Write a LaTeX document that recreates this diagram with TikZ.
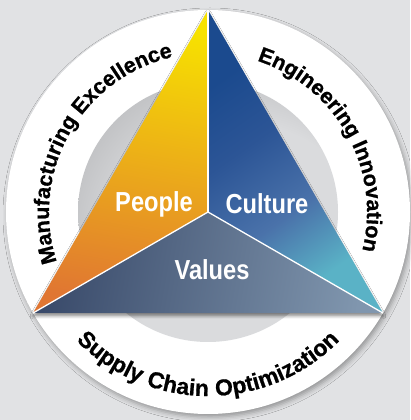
\documentclass[tikz,border=0pt]{standalone}
\usepackage{fontspec}
\setmainfont{Liberation Sans}
\newfontfamily\condfont[FakeStretch=0.86]{Liberation Sans}
\newfontfamily\ringfont[FakeBold=0.8]{Liberation Sans}
\newfontfamily\ringfontwide[FakeBold=0.8, LetterSpace=3]{Liberation Sans}
\usetikzlibrary{calc,decorations.text,shadows.blur}
\definecolor{bggray}{HTML}{E1E2E4}
\definecolor{discA}{HTML}{DADBDD}
\definecolor{discB}{HTML}{8E8F92}
\definecolor{pplTop}{HTML}{F7E200}
\definecolor{pplMid}{HTML}{EFBE48}
\definecolor{pplBot}{HTML}{E07632}
\definecolor{culTop}{HTML}{1B4A8E}
\definecolor{culMidA}{HTML}{2C5596}
\definecolor{culMidB}{HTML}{4A72AA}
\definecolor{culBot}{HTML}{5AB2C6}
\definecolor{valL}{HTML}{394A6A}
\definecolor{valR}{HTML}{8096AE}
\pgfdeclareradialshading{discshade}{\pgfpoint{14bp}{-14bp}}{color(0bp)=(discA); color(24bp)=(discA); color(50bp)=(discB)}
\pgfdeclareverticalshading{cultureshade}{100bp}{color(0bp)=(culBot); color(28bp)=(culBot); color(42bp)=(culMidB); color(58bp)=(culMidA); color(72bp)=(culTop); color(100bp)=(culTop)}
\tikzset{
  lbl/.style={text=white, font=\condfont\bfseries\fontsize{27.5}{28}\selectfont, inner sep=0pt},
  sep/.style={draw=white, line width=1.3pt},
  ringtext/.style={decorate, decoration={text along path, text align=center, text={|\ringfont\bfseries\fontsize{21.5}{25}\selectfont|#1}}},
  ringtextwide/.style={decorate, decoration={text along path, text align=center, text={|\ringfontwide\bfseries\fontsize{23}{25}\selectfont|#1}}}
}
\begin{document}
\begin{tikzpicture}[x=1pt,y=1pt]
\useasboundingbox (0,0) rectangle (410,420);
\fill[bggray] (0,0) rectangle (410,420);
\coordinate (O) at (208,208);
\coordinate (T) at ($(O)+(90:202)$);
\coordinate (L) at ($(O)+(210:202)$);
\coordinate (R) at ($(O)+(330:202)$);
% outer white disc with soft shadow
\fill[white, blur shadow={shadow xshift=2pt, shadow yshift=-3pt, shadow blur radius=5pt, shadow opacity=35}] (O) circle (202);
% inner recessed disc
\shade[shading=discshade] (O) circle (130);
% triangle shadow
\path[blur shadow={shadow xshift=0pt, shadow yshift=-3pt, shadow blur radius=3pt, shadow opacity=45}] (T) -- (L) -- (R) -- cycle;
% three regions
\shade[top color=pplTop, middle color=pplMid, bottom color=pplBot, shading angle=-10] (T) -- (O) -- (L) -- cycle;
\shade[shading=cultureshade, shading angle=35] (T) -- (R) -- (O) -- cycle;
\shade[left color=valL, right color=valR, shading angle=80] (O) -- (R) -- (L) -- cycle;
\draw[sep] (O) -- (T);
\draw[sep] (O) -- (L);
\draw[sep] (O) -- (R);
% labels
\node[lbl] (people) at (154,216) {People};
\node[lbl] (culture) at (267,216) {Culture};
\node[lbl] (values) at (212,150) {Values};
% ring texts
\path[ringtext={Manufacturing Excellence}] ($(O)+(212:159)$) arc[start angle=212, end angle=89, radius=159];
\path[ringtext={Engineering Innovation}] ($(O)+(91:159)$) arc[start angle=91, end angle=-33, radius=159];
\path[ringtextwide={Supply Chain Optimization}] ($(O)+(200:184)$) arc[start angle=200, end angle=340, radius=184];
\end{tikzpicture}
\end{document}
